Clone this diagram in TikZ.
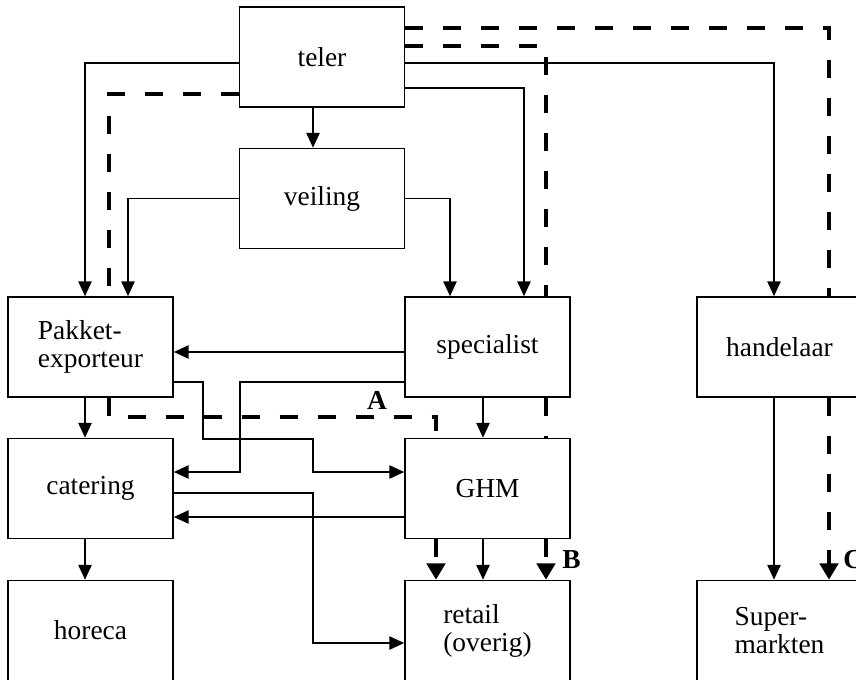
\documentclass[tikz,border=0pt]{standalone}
\usepackage{fontspec}
\setmainfont{Liberation Serif}
\usetikzlibrary{arrows.meta}

\begin{document}
\begin{tikzpicture}[x=0.025cm,y=-0.025cm,
  box/.style={draw,line width=1.2pt,minimum width=4.125cm,minimum height=2.5cm,
    inner sep=0pt,align=left,font=\fontsize{19.5}{20}\selectfont},
  flow/.style={line width=1pt,-{Triangle[length=10.5pt,width=9.5pt]}},
  dline/.style={line width=2.6pt,dash pattern=on 12.8pt off 14.2pt},
  dflow/.style={dline,-{Triangle[length=11.5pt,width=13pt]}},
  lbl/.style={inner sep=0pt,font=\fontsize{19.5}{20}\selectfont\bfseries}]
\useasboundingbox (0,0) rectangle (856,679);
\clip (0,0) rectangle (856,679);
% boxes
\node[box] (teler) at (322,57) {teler};
\node[box] (veiling) at (322,198.5) {veiling};
\node[box] (pakket) at (90.5,347) {Pakket-\\exporteur};
\node[box] (specialist) at (487.5,347) {specialist};
\node[box] (handelaar) at (779.5,347) {handelaar};
\node[box] (catering) at (90.5,488.5) {catering};
\node[box] (ghm) at (487.5,488.5) {GHM};
\node[box] (horeca) at (90.5,630.5) {horeca};
\node[box] (retail) at (487.5,630.5) {retail\\(overig)};
\node[box] (super) at (779.5,630.5) {Super-\\markten};
% solid flows
\draw[flow] (teler.west |- 0,63) -| (pakket.north -| 85,0);
\draw[flow] (teler.south -| 313,0) -- (veiling.north -| 313,0);
\draw[flow] (veiling.west) -| (pakket.north -| 128,0);
\draw[flow] (veiling.east) -| (specialist.north -| 450,0);
\draw[flow] (teler.east |- 0,88) -| (specialist.north -| 524,0);
\draw[flow] (teler.east |- 0,63) -| (handelaar.north -| 774,0);
\draw[flow] (specialist.west |- 0,352) -- (pakket.east |- 0,352);
\draw[flow] (specialist.west |- 0,382) -| (240,472) -- (catering.east |- 0,472);
\draw[flow] (pakket.east |- 0,382) -| (203,439) -| (313,472) -- (ghm.west |- 0,472);
\draw[flow] (catering.east |- 0,493) -| (313,643) -- (retail.west |- 0,643);
\draw[flow] (ghm.west |- 0,517) -- (catering.east |- 0,517);
\draw[flow] (specialist.south -| 483,0) -- (ghm.north -| 483,0);
\draw[flow] (ghm.south -| 483,0) -- (retail.north -| 483,0);
\draw[flow] (pakket.south -| 85,0) -- (catering.north -| 85,0);
\draw[flow] (catering.south -| 85,0) -- (horeca.north -| 85,0);
\draw[flow] (handelaar.south -| 774,0) -- (super.north -| 774,0);
% dashed flows
\coordinate (pend) at (109,286);
\draw[dline] (teler.west |- 0,94) -| (pend);
\draw[dline] (pakket.south -| 109,0) |- (436,417) -- (ghm.north -| 436,0);
\draw[dflow] (ghm.south -| 436,0) -- (retail.north -| 436,0);
\draw[dline] (teler.east |- 0,46) -| (specialist.north -| 546,0);
\draw[dline] (specialist.south -| 546,0) -- (ghm.north -| 546,0);
\draw[dflow] (ghm.south -| 546,0) -- (retail.north -| 546,0);
\draw[dline] (teler.east |- 0,28) -| (handelaar.north -| 829,0);
\draw[dflow] (handelaar.south -| 829,0) -- (super.north -| 829,0);
% labels
\node[lbl] (la) at (377,400) {A};
\node[lbl,anchor=west] (lb) at (562,560) {B};
\node[lbl,anchor=west] (lc) at (843,560) {C};
\end{tikzpicture}
\end{document}
